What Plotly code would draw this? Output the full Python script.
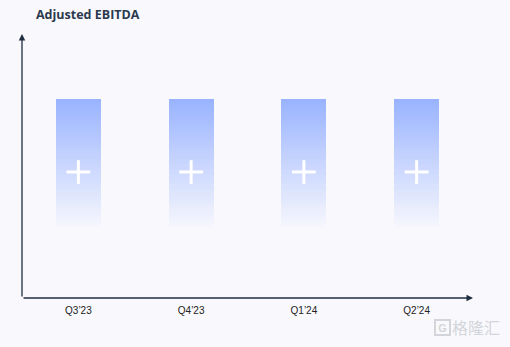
import plotly.graph_objects as go

categories = ["Q3\u201923", "Q4\u201923", "Q1\u201924", "Q2\u201924"]
values = [75.5, 75.5, 75.5, 75.5]
title_text = "Adjusted EBITDA"

BG = "#F9F9FD"
AXIS = "#1E2D40"
TOP_RGB = (152, 178, 255)
WM = "#D3D5DB"

fig = go.Figure()

# gradient bars built from stacked slices
n = 60
fade_start = 0.34  # fraction of bar height where color fades out
for i in range(n):
    f0 = fade_start + (1 - fade_start) * i / n
    f1 = fade_start + (1 - fade_start) * (i + 1) / n
    a = (i + 0.5) / n
    col = f"rgba({TOP_RGB[0]},{TOP_RGB[1]},{TOP_RGB[2]},{a:.3f})"
    fig.add_trace(go.Bar(
        x=categories,
        y=[v * (f1 - f0) for v in values],
        base=[v * f0 for v in values],
        width=0.4,
        marker=dict(color=col, line=dict(width=0)),
        hoverinfo="skip",
        showlegend=False,
    ))

# white plus markers
fig.add_trace(go.Scatter(
    x=categories,
    y=[v * 0.632 for v in values],
    mode="markers",
    marker=dict(symbol="cross-thin", size=17, line=dict(color="white", width=3)),
    hoverinfo="skip",
    showlegend=False,
))

fig.update_layout(
    width=510, height=347,
    margin=dict(l=22, r=37, t=34, b=49),
    paper_bgcolor=BG, plot_bgcolor=BG,
    barmode="overlay",
    bargap=0,
    title=dict(text="<b>" + title_text + "</b>", x=36 / 510, xanchor="left",
               y=1 - 15 / 347, yanchor="middle",
               font=dict(family="Open Sans", size=12.5, color="#2B3A4E")),
    xaxis=dict(
        type="category", range=[-0.5, 3.5],
        showline=False, showgrid=False, zeroline=False,
        ticks="", tickfont=dict(family="Liberation Sans, Arial", size=10, color="#222222"),
        ticklabelstandoff=5, fixedrange=True,
    ),
    yaxis=dict(range=[0, 100], showline=False, showgrid=False, zeroline=False,
               showticklabels=False, ticks="", fixedrange=True),
    font=dict(family="Liberation Sans, Arial"),
)

# axes with arrowheads
fig.add_annotation(xref="x domain", yref="y domain", x=0, y=1.0, ax=0, ay=0,
                   axref="x domain", ayref="y domain", showarrow=True, arrowhead=2,
                   arrowsize=1, arrowwidth=1.3, arrowcolor=AXIS, text="")
fig.add_annotation(xref="x domain", yref="y domain", x=1.0, y=0, ax=0, ay=0,
                   axref="x domain", ayref="y domain", showarrow=True, arrowhead=2,
                   arrowsize=1, arrowwidth=1.3, arrowcolor=AXIS, text="")

# watermark (paper coords are relative to the plot area)
PW, PH, L, B = 452, 264, 22, 298
wm_y = (B - 327) / PH
fig.add_annotation(xref="paper", yref="paper", x=(503 - L) / PW, y=wm_y,
                   xanchor="right", yanchor="middle", showarrow=False,
                   text="\u683c\u9686\u6c47",
                   font=dict(family="Noto Sans CJK SC", size=16, color=WM))
fig.add_annotation(xref="paper", yref="paper", x=(443 - L) / PW, y=wm_y,
                   xanchor="center", yanchor="middle", showarrow=False,
                   text="<b>G</b>", bordercolor=WM, borderwidth=2, borderpad=0,
                   width=13, height=13,
                   font=dict(family="Liberation Sans", size=11, color=WM))

fig.write_html("out.html")
